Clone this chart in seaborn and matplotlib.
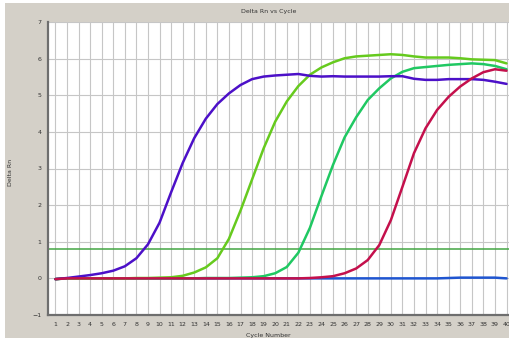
import numpy as np
import pandas as pd
import seaborn as sns
import matplotlib.pyplot as plt
from matplotlib.patches import Rectangle

cycles = list(range(1, 41))

purple = [-0.02, 0.01, 0.05, 0.09, 0.14, 0.21, 0.33, 0.55, 0.93, 1.52,
          2.35, 3.15, 3.83, 4.36, 4.76, 5.05, 5.28, 5.44, 5.51, 5.54,
          5.56, 5.58, 5.53, 5.51, 5.52, 5.51, 5.51, 5.51, 5.51, 5.52,
          5.52, 5.45, 5.42, 5.42, 5.44, 5.44, 5.44, 5.42, 5.37, 5.31]
light_green = [-0.02, 0.0, 0.0, 0.0, 0.0, 0.0, 0.0, 0.01, 0.01, 0.02,
               0.03, 0.07, 0.16, 0.30, 0.55, 1.08, 1.85, 2.70, 3.55, 4.28,
               4.83, 5.25, 5.56, 5.76, 5.90, 6.01, 6.06, 6.08, 6.10, 6.12,
               6.10, 6.06, 6.03, 6.03, 6.03, 6.01, 5.98, 5.97, 5.96, 5.87]
teal = [-0.02, 0.0, 0.0, 0.0, 0.0, 0.0, 0.0, 0.0, 0.0, 0.0,
        0.0, 0.0, 0.0, 0.01, 0.01, 0.01, 0.02, 0.03, 0.06, 0.14,
        0.31, 0.70, 1.38, 2.25, 3.10, 3.85, 4.40, 4.87, 5.19, 5.46,
        5.64, 5.74, 5.77, 5.80, 5.83, 5.85, 5.87, 5.85, 5.80, 5.71]
red = [-0.02, 0.0, 0.0, 0.0, 0.0, 0.0, 0.0, 0.0, 0.0, 0.0,
       0.0, 0.0, 0.0, 0.0, 0.0, 0.0, 0.0, 0.0, 0.0, 0.0,
       0.0, 0.0, 0.01, 0.03, 0.06, 0.14, 0.27, 0.50, 0.91, 1.59,
       2.50, 3.42, 4.10, 4.60, 4.96, 5.24, 5.46, 5.63, 5.71, 5.67]
blue = [-0.02, 0.0, 0.0, 0.0, 0.0, 0.0, 0.0, 0.0, 0.0, 0.0,
        0.0, 0.0, 0.0, 0.0, 0.0, 0.0, 0.0, 0.0, 0.0, 0.0,
        0.0, 0.0, 0.0, 0.0, 0.0, 0.0, 0.0, 0.0, 0.0, 0.0,
        0.0, 0.0, 0.0, 0.0, 0.01, 0.02, 0.02, 0.02, 0.02, 0.0]
threshold = 0.8

series = {"blue": blue, "teal": teal, "light_green": light_green,
          "purple": purple, "red": red}
colors = {"blue": "#1f55d0", "teal": "#20c862", "light_green": "#66ca1e",
          "purple": "#4c10c8", "red": "#c4104c"}

rows = []
for name, vals in series.items():
    for c, v in zip(cycles, vals):
        rows.append({"cycle": c, "delta_rn": v, "well": name})
df = pd.DataFrame(rows)

sns.set_style("white")
plt.rcParams["font.family"] = ["DejaVu Sans"]

fig = plt.figure(figsize=(5.1, 3.38), dpi=100)
fig.patch.set_facecolor("white")
# grey window panel behind the plot, thin white border at left/top
fig.patches.append(Rectangle((5 / 510, 0), 1, 1 - 3 / 338, transform=fig.transFigure,
                             facecolor="#d4d0c8", edgecolor="none", zorder=-10))

ax = fig.add_axes([48.5 / 510, 23 / 338, 1 - 48.5 / 510, 293 / 338])
ax.set_facecolor("white")

ax.set_xticks(cycles)
ax.set_yticks(range(-1, 8))
ax.grid(True, color="#c6c6c6", lw=0.8)
ax.set_axisbelow(True)

ax.axhline(threshold, color="#44a644", lw=1.1, zorder=2)

sns.lineplot(data=df, x="cycle", y="delta_rn", hue="well", palette=colors,
             hue_order=list(series.keys()), lw=1.8, legend=False, ax=ax, zorder=3)

ax.set_xlim(0.4, 40.3)
ax.set_ylim(-1, 7)
ax.tick_params(axis="both", length=0, labelsize=4.5, colors="#333333", pad=5)
ax.set_xlabel("")
ax.set_ylabel("")

for side in ["top", "right"]:
    ax.spines[side].set_visible(False)
for side in ["left", "bottom"]:
    ax.spines[side].set_color("#6e6e6e")
    ax.spines[side].set_linewidth(1.6)

fig.text(269 / 510, 1 - 12 / 338, "Delta Rn vs Cycle", fontsize=4.5,
         ha="center", va="center", color="#333333")
fig.text(11 / 510, 1 - 172 / 338, "Delta Rn", fontsize=4.5, rotation=90,
         ha="center", va="center", color="#333333")
fig.text(268 / 510, 3 / 338, "Cycle Number", fontsize=4.5,
         ha="center", va="center", color="#333333")

fig.savefig("out.png", dpi=100, facecolor=fig.get_facecolor())
